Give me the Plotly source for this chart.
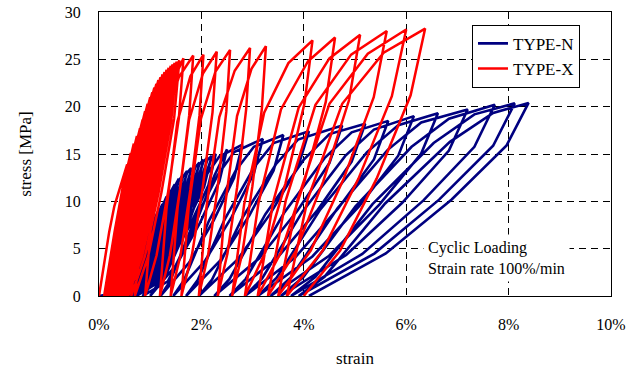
import plotly.graph_objects as go

# ---- TYPE-X (red) cyclic loading path: strain [%], stress [MPa] ----
x_strain = [
    0, 0.1, 0.2, 0.3, 0.4, 0.5, 0.55, 0.496, 0.37, 0.235, 0.10,
    0.178, 0.308, 0.464, 0.62, 0.56, 0.42, 0.27, 0.12,
    0.204, 0.344, 0.512, 0.68, 0.615, 0.464, 0.302, 0.14,
    0.23, 0.38, 0.56, 0.74, 0.67, 0.508, 0.334, 0.16,
    0.256, 0.416, 0.608, 0.80, 0.726, 0.552, 0.366, 0.18,
    0.28, 0.448, 0.649, 0.85, 0.771, 0.588, 0.391, 0.195,
    0.301, 0.477, 0.689, 0.90, 0.817, 0.624, 0.417, 0.21,
    0.321, 0.506, 0.728, 0.95, 0.864, 0.662, 0.446, 0.23,
    0.346, 0.538, 0.769, 1.00, 0.91, 0.70, 0.475, 0.25,
    0.369, 0.566, 0.803, 1.04, 0.947, 0.73, 0.498, 0.265,
    0.387, 0.591, 0.836, 1.08, 0.984, 0.76, 0.52, 0.28,
    0.406, 0.616, 0.868, 1.12, 1.021, 0.79, 0.542, 0.295,
    0.425, 0.641, 0.901, 1.16, 1.058, 0.82, 0.565, 0.31,
    0.444, 0.666, 0.933, 1.20, 1.096, 0.854, 0.595, 0.335,
    0.471, 0.697, 0.969, 1.24, 1.134, 0.888, 0.624, 0.36,
    0.498, 0.728, 1.004, 1.28, 1.173, 0.922, 0.654, 0.385,
    0.525, 0.759, 1.04, 1.32, 1.211, 0.956, 0.683, 0.41,
    0.553, 0.79, 1.075, 1.36, 1.25, 0.992, 0.716, 0.44,
    0.584, 0.824, 1.112, 1.40, 1.288, 1.028, 0.749, 0.47,
    0.616, 0.858, 1.149, 1.44, 1.33, 1.072, 0.796, 0.52,
    0.664, 0.904, 1.192, 1.48, 1.371, 1.116, 0.843, 0.57,
    0.713, 0.95, 1.235, 1.52, 1.413, 1.164, 0.897, 0.63,
    0.771, 1.006, 1.288, 1.57, 1.466, 1.222, 0.961, 0.70,
    0.843, 1.08, 1.365, 1.65, 1.56, 1.35, 1.125, 0.90,
    1.041, 1.276, 1.558, 1.84, 1.762, 1.58, 1.385, 1.19,
    1.318, 1.53, 1.785, 2.04, 1.963, 1.784, 1.592, 1.40,
    1.535, 1.76, 2.03, 2.30, 2.217, 2.024, 1.817, 1.61,
    1.752, 1.99, 2.275, 2.56, 2.487, 2.316, 2.133, 1.95,
    2.10, 2.35, 2.65, 2.95, 2.874, 2.698, 2.509, 2.32,
    2.461, 2.696, 2.978, 3.26, 3.181, 2.996, 2.798, 2.60,
    2.836, 3.228, 3.699, 4.17, 4.012, 3.642, 3.246, 2.85,
    3.114, 3.554, 4.082, 4.61, 4.429, 4.006, 3.553, 3.10,
    3.40, 3.90, 4.50, 5.10, 4.884, 4.38, 3.84, 3.30,
    3.648, 4.228, 4.924, 5.62, 5.366, 4.772, 4.136, 3.50,
    3.875, 4.50, 5.25, 6.00, 5.72, 5.068, 4.369, 3.67,
    4.075, 4.75, 5.56, 6.37, 6.086, 5.422, 4.711, 4.0,
]
x_stress = [
    0, 3.5, 6.8, 9.5, 11.3, 13.0, 13.9, 10.4, 6.1, 2.4, 0,
    2.6, 6.9, 11.5, 15.1, 11.3, 6.6, 2.6, 0,
    2.7, 7.4, 12.2, 16.1, 12.1, 7.1, 2.7, 0,
    2.9, 7.8, 12.8, 16.9, 12.7, 7.4, 2.9, 0,
    3.0, 8.1, 13.5, 17.7, 13.3, 7.8, 3.0, 0,
    3.2, 8.6, 14.1, 18.6, 14.0, 8.2, 3.2, 0,
    3.3, 9.0, 14.8, 19.5, 14.6, 8.6, 3.3, 0,
    3.5, 9.3, 15.4, 20.3, 15.2, 8.9, 3.5, 0,
    3.6, 9.7, 16.0, 21.0, 15.8, 9.2, 3.6, 0,
    3.7, 9.9, 16.3, 21.5, 16.1, 9.5, 3.7, 0,
    3.7, 10.1, 16.7, 22.0, 16.5, 9.7, 3.7, 0,
    3.8, 10.3, 17.0, 22.4, 16.8, 9.9, 3.8, 0,
    3.9, 10.5, 17.3, 22.8, 17.1, 10.0, 3.9, 0,
    3.9, 10.6, 17.6, 23.1, 17.3, 10.2, 3.9, 0,
    4.0, 10.8, 17.8, 23.4, 17.6, 10.3, 4.0, 0,
    4.0, 10.9, 18.0, 23.65, 17.7, 10.4, 4.0, 0,
    4.1, 11.0, 18.2, 23.9, 17.9, 10.5, 4.1, 0,
    4.1, 11.1, 18.3, 24.1, 18.1, 10.6, 4.1, 0,
    4.1, 11.2, 18.5, 24.3, 18.2, 10.7, 4.1, 0,
    6.8, 15.2, 21.3, 24.45, 18.3, 10.8, 4.2, 0,
    6.9, 15.3, 21.4, 24.6, 18.5, 10.8, 4.2, 0,
    6.9, 15.3, 21.5, 24.75, 18.6, 10.9, 4.2, 0,
    7.0, 15.4, 21.7, 24.9, 18.7, 11.0, 4.2, 0,
    7.0, 15.6, 21.8, 25.1, 18.8, 11.0, 4.3, 0,
    9.1, 18.3, 23.1, 25.4, 19.1, 11.2, 4.3, 0,
    9.2, 18.4, 23.2, 25.5, 19.1, 11.2, 4.3, 0,
    9.3, 18.6, 23.5, 25.8, 19.4, 11.4, 4.4, 0,
    9.4, 18.7, 23.7, 26.0, 19.5, 11.4, 4.4, 0,
    9.4, 18.9, 23.8, 26.2, 19.7, 11.5, 4.5, 0,
    9.5, 19.0, 24.0, 26.4, 19.8, 11.6, 4.5, 0,
    9.7, 19.4, 24.6, 27.0, 20.3, 11.9, 4.6, 0,
    9.8, 19.7, 24.8, 27.3, 20.5, 12.0, 4.6, 0,
    9.9, 19.9, 25.1, 27.6, 20.7, 12.1, 4.7, 0,
    10.1, 20.2, 25.5, 28.0, 21.0, 12.3, 4.8, 0,
    10.1, 20.3, 25.6, 28.15, 21.1, 12.4, 4.8, 0,
    10.2, 20.3, 25.7, 28.25, 21.2, 12.4, 4.8, 0,
]

# ---- TYPE-N (navy) cyclic loading path ----
n_strain = [
    0, 0.2, 0.4, 0.6, 0.549, 0.4215, 0.2685, 0.09,
    0.2965, 0.4735, 0.60, 0.68, 0.624, 0.484, 0.316, 0.12,
    0.344, 0.536, 0.68, 0.76, 0.699, 0.5465, 0.3635, 0.15,
    0.3915, 0.5985, 0.76, 0.84, 0.775, 0.6125, 0.4175, 0.19,
    0.4455, 0.6645, 0.84, 0.92, 0.85, 0.675, 0.465, 0.22,
    0.493, 0.727, 0.92, 1.00, 0.925, 0.7375, 0.5125, 0.25,
    0.5405, 0.7895, 1.00, 1.08, 1.0, 0.80, 0.56, 0.28,
    0.588, 0.852, 1.08, 1.16, 1.075, 0.8625, 0.6075, 0.31,
    0.6355, 0.9145, 1.16, 1.24, 1.151, 0.9285, 0.6615, 0.35,
    0.6895, 0.9805, 1.24, 1.32, 1.226, 0.991, 0.709, 0.38,
    0.737, 1.043, 1.32, 1.40, 1.301, 1.0535, 0.7565, 0.41,
    0.7845, 1.1055, 1.40, 1.48, 1.376, 1.116, 0.804, 0.44,
    0.832, 1.168, 1.48, 1.56, 1.451, 1.1785, 0.8515, 0.47,
    0.8795, 1.2305, 1.56, 1.64, 1.527, 1.2445, 0.9055, 0.51,
    0.9335, 1.2965, 1.64, 1.72, 1.602, 1.307, 0.953, 0.54,
    0.981, 1.359, 1.72, 1.80, 1.677, 1.3695, 1.0005, 0.57,
    1.0285, 1.4215, 1.80, 1.88, 1.752, 1.432, 1.048, 0.60,
    1.076, 1.484, 1.88, 1.96, 1.827, 1.4945, 1.0955, 0.63,
    1.1235, 1.5465, 1.96, 2.04, 1.903, 1.5605, 1.1495, 0.67,
    1.1775, 1.6125, 2.04, 2.12, 1.978, 1.623, 1.197, 0.70,
    1.225, 1.675, 2.12, 2.20, 2.053, 1.6855, 1.2445, 0.73,
    1.2725, 1.7375, 2.20, 2.28, 2.137, 1.7795, 1.3505, 0.85,
    1.345, 1.84, 2.253, 2.50, 2.35, 1.975, 1.525, 1.0,
    1.18, 1.6, 2.05, 2.35, 2.8, 2.64, 2.24, 1.76, 1.2,
    1.392, 1.84, 2.32, 2.64, 3.2, 3.025, 2.5875, 2.0625, 1.45,
    1.66, 2.15, 2.675, 3.025, 3.6, 3.41, 2.935, 2.365, 1.7,
    1.928, 2.46, 3.03, 3.41, 4.1, 3.885, 3.3475, 2.7025, 1.95,
    2.208, 2.81, 3.455, 3.885, 4.75, 4.5, 3.875, 3.125, 2.25,
    2.55, 3.25, 4.0, 4.5, 5.2, 4.935, 4.2725, 3.4775, 2.55,
    2.868, 3.61, 4.405, 4.935, 5.65, 5.37, 4.67, 3.83, 2.85,
    3.186, 3.97, 4.81, 5.37, 6.15, 5.845, 5.0825, 4.1675, 3.1,
    3.466, 4.32, 5.235, 5.845, 6.62, 6.293, 5.4755, 4.4945, 3.35,
    3.742, 4.658, 5.639, 6.293, 7.2, 6.835, 5.9225, 4.8275, 3.55,
    3.988, 5.01, 6.105, 6.835, 7.73, 7.332, 6.337, 5.143, 3.75,
    4.228, 5.342, 6.536, 7.332, 8.12, 7.698, 6.643, 5.377, 3.9,
    4.406, 5.588, 6.854, 7.698, 8.39, 7.961, 6.8885, 5.6015, 4.1,
]
n_stress = [
    0, 0.2, 1.2, 3.0, 2.34, 1.5, 0.66, 0,
    0.47, 1.95, 2.8, 3.9, 3.04, 1.95, 0.86, 0,
    0.58, 2.4, 3.7, 4.8, 3.74, 2.4, 1.06, 0,
    0.68, 2.85, 4.6, 5.7, 4.45, 2.85, 1.25, 0,
    0.79, 3.3, 5.5, 6.6, 5.15, 3.3, 1.45, 0,
    0.9, 3.75, 6.4, 7.5, 5.85, 3.75, 1.65, 0,
    1.0, 4.15, 7.3, 8.3, 6.47, 4.15, 1.83, 0,
    1.08, 4.5, 8.1, 9.0, 7.02, 4.5, 1.98, 0,
    1.16, 4.85, 8.8, 9.7, 7.57, 4.85, 2.13, 0,
    1.26, 5.25, 9.5, 10.5, 8.19, 5.25, 2.31, 0,
    1.34, 5.6, 10.3, 11.2, 8.74, 5.6, 2.46, 0,
    1.42, 5.9, 11.0, 11.8, 9.2, 5.9, 2.6, 0,
    1.49, 6.2, 11.6, 12.4, 9.67, 6.2, 2.73, 0,
    1.54, 6.4, 12.2, 12.8, 9.98, 6.4, 2.82, 0,
    1.58, 6.6, 12.6, 13.2, 10.3, 6.6, 2.9, 0,
    1.62, 6.75, 13.0, 13.5, 10.53, 6.75, 2.97, 0,
    1.66, 6.9, 13.3, 13.8, 10.76, 6.9, 3.04, 0,
    1.69, 7.05, 13.6, 14.1, 11.0, 7.05, 3.1, 0,
    1.73, 7.2, 13.9, 14.4, 11.23, 7.2, 3.17, 0,
    1.75, 7.3, 14.2, 14.6, 11.39, 7.3, 3.21, 0,
    1.78, 7.4, 14.4, 14.8, 11.54, 7.4, 3.26, 0,
    1.8, 7.5, 14.6, 15.0, 11.7, 7.5, 3.3, 0,
    1.55, 6.98, 12.71, 15.5, 12.09, 7.75, 3.41, 0,
    1.55, 7.44, 12.4, 14.73, 16.0, 12.48, 8.0, 3.52, 0,
    1.6, 7.68, 12.8, 15.2, 16.6, 12.95, 8.3, 3.65, 0,
    1.66, 7.97, 13.28, 15.77, 17.0, 13.26, 8.5, 3.74, 0,
    1.7, 8.16, 13.6, 16.15, 17.4, 13.57, 8.7, 3.83, 0,
    1.74, 8.35, 13.92, 16.53, 18.0, 14.04, 9.0, 3.96, 0,
    1.8, 8.64, 14.4, 17.1, 18.2, 14.2, 9.1, 4.0, 0,
    1.82, 8.74, 14.56, 17.29, 18.5, 14.43, 9.25, 4.07, 0,
    1.85, 8.88, 14.8, 17.58, 19.0, 14.82, 9.5, 4.18, 0,
    1.9, 9.12, 15.2, 18.05, 19.3, 15.05, 9.65, 4.25, 0,
    1.93, 9.26, 15.44, 18.34, 19.7, 15.37, 9.85, 4.33, 0,
    1.97, 9.46, 15.76, 18.72, 20.2, 15.76, 10.1, 4.44, 0,
    2.02, 9.7, 16.16, 19.19, 20.35, 15.87, 10.18, 4.48, 0,
    2.04, 9.77, 16.28, 19.33, 20.4, 15.91, 10.2, 4.49, 0,
]

series_names = ["TYPE-N", "TYPE-X"]
series_colors = ["#000080", "#FF0000"]
x_ticks = [0, 2, 4, 6, 8, 10]
y_ticks = [0, 5, 10, 15, 20, 25, 30]
note_text = "Cyclic Loading<br>Strain rate 100%/min"

FONT = "Liberation Serif"

fig = go.Figure()
fig.add_trace(go.Scatter(x=n_strain, y=n_stress, mode="lines", name=series_names[0],
                         line=dict(color=series_colors[0], width=2.6)))
fig.add_trace(go.Scatter(x=x_strain, y=x_stress, mode="lines", name=series_names[1],
                         line=dict(color=series_colors[1], width=2.5)))

axis_common = dict(
    showgrid=True, gridcolor="black", gridwidth=1, griddash="7px,5px",
    showline=True, linecolor="black", linewidth=1, mirror=True,
    zeroline=False, ticks="", automargin=False,
    tickfont=dict(family=FONT, size=16, color="black"),
)

fig.update_layout(
    width=643, height=372,
    margin=dict(l=99, r=32, t=12, b=76),
    paper_bgcolor="white", plot_bgcolor="white",
    font=dict(family=FONT, size=16, color="black"),
    showlegend=True,
    legend=dict(x=0.7285, y=0.955, xanchor="left", yanchor="top",
                bgcolor="white", bordercolor="black", borderwidth=1,
                font=dict(family=FONT, size=17, color="black"),
                tracegroupgap=0),
    xaxis=dict(range=[0, 10], tickvals=x_ticks, ticktext=[f"{v}%" for v in x_ticks],
               ticklabelstandoff=14,
               title=dict(text="strain", font=dict(family=FONT, size=17), standoff=19),
               **axis_common),
    yaxis=dict(range=[0, 30], tickvals=y_ticks, ticklabelstandoff=14,
               title=dict(text="stress [MPa]", font=dict(family=FONT, size=17), standoff=28),
               **axis_common),
)

fig.add_annotation(x=0.6328, y=0.1355, xref="paper", yref="paper",
                   xanchor="left", yanchor="middle", align="left", text=note_text,
                   showarrow=False, bgcolor="white", borderpad=4,
                   font=dict(family=FONT, size=16, color="black"))

fig.write_html("out.html")
